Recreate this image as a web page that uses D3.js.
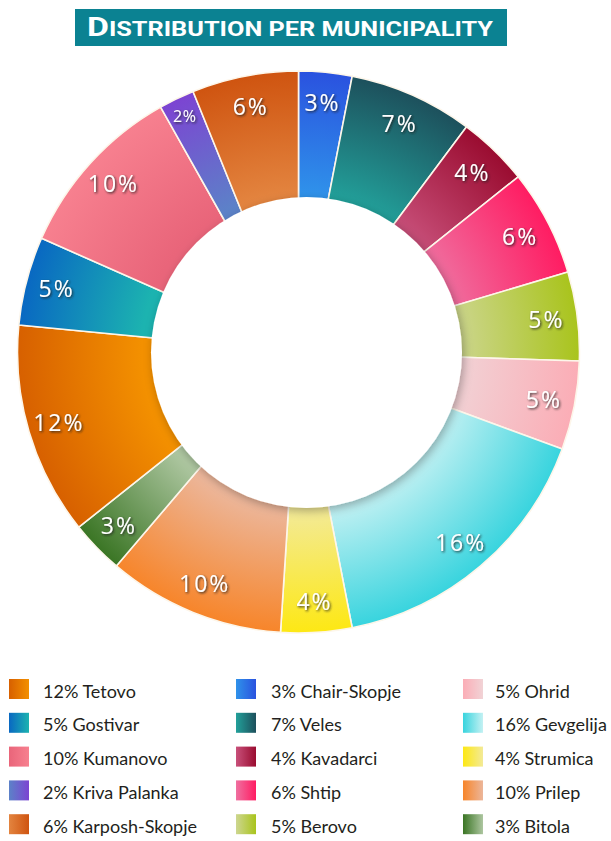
<!DOCTYPE html>
<html>
<head>
<meta charset="utf-8">
<script src="https://cdn.jsdelivr.net/npm/d3@7"></script>
<style>
  html, body { margin: 0; padding: 0; background: #fff; }
  svg { display: block; }
</style>
</head>
<body>
<svg id="chart" width="611" height="841"></svg>
<script>
// Municipalities, clockwise from 12 o'clock
const municipalities = ["Chair-Skopje", "Veles", "Kavadarci", "Shtip", "Berovo", "Ohrid",
  "Gevgelija", "Strumica", "Prilep", "Bitola", "Tetovo", "Gostivar", "Kumanovo",
  "Kriva Palanka", "Karposh-Skopje"];
const shares = [3, 7, 4, 6, 5, 5, 16, 4, 10, 3, 12, 5, 10, 2, 6];

// Shading of each slice: colour near the hole and colour at the rim
const innerColors = ["#2f92ea", "#22a09a", "#c8507a", "#ef70a0", "#cdd690", "#f1d3d6",
  "#c4f1f3", "#f3ea98", "#ecb69a", "#adc6a0", "#f39000", "#1cb3b0", "#e9657a",
  "#5c82c8", "#e3843f"];
const outerColors = ["#2a52df", "#1d505c", "#9a0c30", "#ff1c62", "#a9c41c", "#fbadb6",
  "#38d4de", "#fde814", "#f7852a", "#3a7524", "#d76000", "#0968c2", "#f7808f",
  "#7c44d2", "#cf5410"];

// Legend: three columns of five
const legendOrder = ["Tetovo", "Gostivar", "Kumanovo", "Kriva Palanka", "Karposh-Skopje",
  "Chair-Skopje", "Veles", "Kavadarci", "Shtip", "Berovo",
  "Ohrid", "Gevgelija", "Strumica", "Prilep", "Bitola"];
// swatch gradient runs rim colour -> hole colour for these
const swatchRimFirst = ["Tetovo", "Gostivar", "Ohrid", "Gevgelija", "Strumica", "Prilep", "Bitola"];

const titleCap = "D";
const titleRest = "ISTRIBUTION PER MUNICIPALITY";

const svg = d3.select("#chart");
const defs = svg.append("defs");

// ---- title banner
svg.append("rect")
  .attr("x", 75).attr("y", 9).attr("width", 432).attr("height", 37)
  .attr("fill", "#0b8292");
const title = svg.append("text")
  .attr("x", 87).attr("y", 36)
  .attr("fill", "#fff")
  .attr("font-family", "Roboto, 'Liberation Sans', sans-serif")
  .attr("font-weight", 700)
  .attr("textLength", 406)
  .attr("lengthAdjust", "spacingAndGlyphs");
title.append("tspan").attr("font-size", 26).text(titleCap);
title.append("tspan").attr("font-size", 19.5).text(titleRest);

// ---- donut
const cx = 298.5, cy = 352;
const outerR = 281;
const holeR = 155.5, holeDx = 8, holeDy = 0.5;

const pie = d3.pie().sort(null).value(d => d.value);
const arcs = pie(municipalities.map((name, i) => ({ name, value: shares[i], i })));

const arc = d3.arc().innerRadius(140).outerRadius(outerR);

// radial shading, centred on the donut's own origin
arcs.forEach((a, i) => {
  const g = defs.append("radialGradient")
    .attr("id", "slice" + i)
    .attr("gradientUnits", "userSpaceOnUse")
    .attr("cx", 0).attr("cy", 0).attr("r", outerR);
  g.append("stop").attr("offset", 0.56).attr("stop-color", innerColors[i]);
  g.append("stop").attr("offset", 1).attr("stop-color", outerColors[i]);
});

const shadow = defs.append("filter").attr("id", "holeShadow")
  .attr("x", "-20%").attr("y", "-20%").attr("width", "140%").attr("height", "140%");
shadow.append("feDropShadow")
  .attr("dx", 2).attr("dy", 3).attr("stdDeviation", 5)
  .attr("flood-color", "#000").attr("flood-opacity", 0.3);

const textShadow = defs.append("filter").attr("id", "labelShadow")
  .attr("x", "-20%").attr("y", "-30%").attr("width", "140%").attr("height", "160%");
textShadow.append("feDropShadow")
  .attr("dx", 1.2).attr("dy", 1.2).attr("stdDeviation", 0.9)
  .attr("flood-color", "#222").attr("flood-opacity", 0.85);

const donut = svg.append("g").attr("transform", `translate(${cx},${cy})`);

donut.selectAll("path.slice")
  .data(arcs)
  .join("path")
  .attr("class", "slice")
  .attr("d", arc)
  .attr("fill", (d, i) => `url(#slice${i})`)
  .attr("stroke", "#fdf6ea")
  .attr("stroke-width", 1.6)
  .attr("stroke-linejoin", "round");

// white centre disc
donut.append("circle")
  .attr("cx", holeDx).attr("cy", holeDy).attr("r", holeR)
  .attr("fill", "#fff")
  .attr("filter", "url(#holeShadow)");

// percentage labels near the rim
const labelArc = d3.arc().innerRadius(250).outerRadius(250);
const smallLabelArc = d3.arc().innerRadius(262).outerRadius(262);
donut.selectAll("text.pct")
  .data(arcs)
  .join("text")
  .attr("class", "pct")
  .attr("transform", d => `translate(${(d.data.value < 3 ? smallLabelArc : labelArc).centroid(d)})`)
  .attr("text-anchor", "middle")
  .attr("dy", "0.36em")
  .attr("fill", "#fff")
  .attr("font-family", "'Open Sans', 'DejaVu Sans', sans-serif")
  .attr("font-size", d => d.data.value < 3 ? 16 : 23)
  .attr("letter-spacing", d => d.data.value < 3 ? 0.6 : 2)
  .attr("filter", "url(#labelShadow)")
  .text(d => d.data.value + "%");

// ---- legend
const colX = [9, 236, 463];
const textX = [43, 271, 495];
const rowY0 = 679, rowStep = 33.8;

const legend = svg.append("g");
legendOrder.forEach((name, k) => {
  const i = municipalities.indexOf(name);
  const col = Math.floor(k / 5), row = k % 5;
  const y = rowY0 + row * rowStep;
  const rimFirst = swatchRimFirst.includes(name);
  const lg = defs.append("linearGradient").attr("id", "sw" + i)
    .attr("x1", 0).attr("x2", 1).attr("y1", 0).attr("y2", 0);
  lg.append("stop").attr("offset", 0).attr("stop-color", rimFirst ? outerColors[i] : innerColors[i]);
  lg.append("stop").attr("offset", 1).attr("stop-color", rimFirst ? innerColors[i] : outerColors[i]);
  legend.append("rect")
    .attr("x", colX[col]).attr("y", y).attr("width", 20).attr("height", 20)
    .attr("fill", `url(#sw${i})`);
  legend.append("text")
    .attr("x", textX[col]).attr("y", y + 18.5)
    .attr("fill", "#231f20")
    .attr("font-family", "Lato, 'Noto Sans', sans-serif")
    .attr("font-size", 18)
    .text(shares[i] + "% " + name);
});
</script>
</body>
</html>
